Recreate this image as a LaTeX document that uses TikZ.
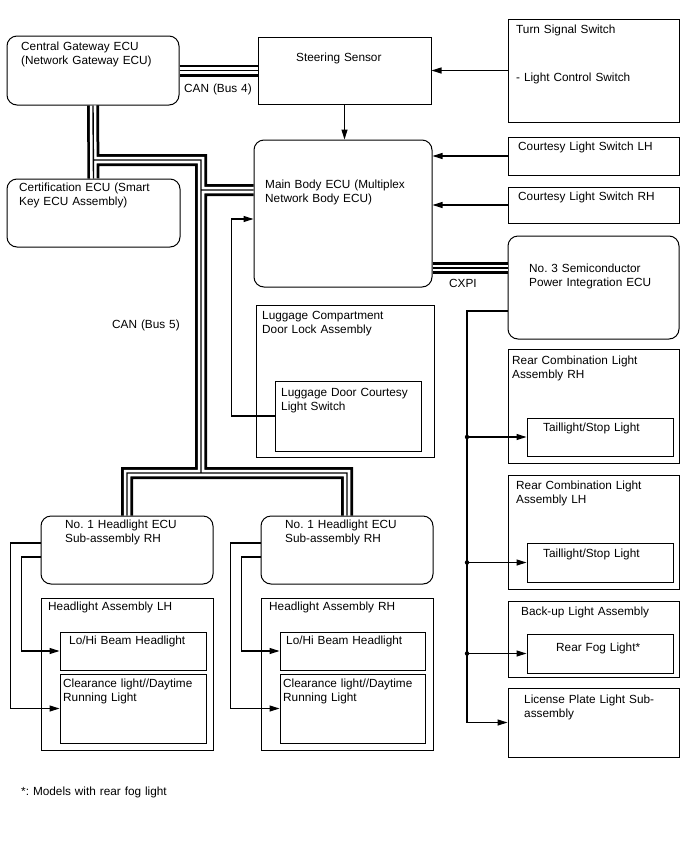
\documentclass[tikz,border=0pt]{standalone}
\usepackage{fontspec}
\setmainfont{Liberation Sans}
\frenchspacing
\usetikzlibrary{arrows.meta,fit}

\tikzset{
  box/.style={draw, line width=1pt, inner sep=0pt},
  rbox/.style={box, rounded corners=10pt},
  txt/.style={anchor=north west, inner sep=0pt, align=left, text width=200pt,
    text height=9pt, font=\fontsize{11.8}{14}\selectfont},
  arr/.style={line width=1.1pt, -{Triangle[length=10pt,width=6pt]}},
  bus/.style={line width=12pt, postaction={draw=white, line width=6.5pt},
    postaction={draw=black, line width=1.4pt}},
}

\begin{document}
\begin{tikzpicture}[x=1pt, y=-1pt]
  \useasboundingbox (0,0) rectangle (688,852);

  % ECUs and switches
  \node[rbox, fit={(7,36)(179,105)}] (gw) {};
  \node[box, fit={(258,37)(431,104)}] (steer) {};
  \node[box, fit={(508,19)(679,122)}] (tss) {};
  \node[rbox, fit={(254,140)(432,287)}] (main) {};
  \node[box, fit={(508,137)(679,175)}] (clh) {};
  \node[box, fit={(508,187)(679,223)}] (crh) {};
  \node[rbox, fit={(7,179)(180,247)}] (cert) {};
  \node[rbox, fit={(508,236)(679,339)}] (no3) {};
  \node[box, fit={(256,305)(434,457)}] (lug) {};
  \node[box, fit={(275,381)(421,451)}] (lsw) {};

  % rear lights
  \node[box, fit={(508,349)(679,463)}] (rcr) {};
  \node[box, fit={(527,418)(673,456)}] (tsr) {};
  \node[box, fit={(508,475)(679,589)}] (rcl) {};
  \node[box, fit={(527,543)(673,582)}] (tsl) {};
  \node[box, fit={(508,601)(679,677)}] (bkp) {};
  \node[box, fit={(527,634)(673,673)}] (fog) {};
  \node[box, fit={(508,688)(679,757)}] (lic) {};

  % headlights
  \node[rbox, fit={(41,516)(213,584)}] (hecuL) {};
  \node[box, fit={(41,598)(213,750)}] (hasL) {};
  \node[box, fit={(60,632)(206,670)}] (lohiL) {};
  \node[box, fit={(60,674)(206,743)}] (clrL) {};
  \node[rbox, fit={(261,516)(433,584)}] (hecuR) {};
  \node[box, fit={(261,598)(433,750)}] (hasR) {};
  \node[box, fit={(280,632)(425,670)}] (lohiR) {};
  \node[box, fit={(280,674)(425,743)}] (clrR) {};

  % texts
  \node[txt] (gwT) at (21,41) {Central Gateway ECU\\(Network Gateway ECU)};
  \node[txt] (steerT) at (296,52) {Steering Sensor};
  \node[txt] (tssT) at (516,24) {Turn Signal Switch};
  \node[txt] (lcsT) at (516,72) {- Light Control Switch};
  \node[txt] (clhT) at (518,141) {Courtesy Light Switch LH};
  \node[txt] (crhT) at (518,191) {Courtesy Light Switch RH};
  \node[txt] (mainT) at (265,179) {Main Body ECU (Multiplex\\Network Body ECU)};
  \node[txt] (certT) at (19,182) {Certification ECU (Smart\\Key ECU Assembly)};
  \node[txt] (no3T) at (529,263) {No. 3 Semiconductor\\Power Integration ECU};
  \node[txt] (lugT) at (262,310) {Luggage Compartment\\Door Lock Assembly};
  \node[txt] (lswT) at (281,387) {Luggage Door Courtesy\\Light Switch};
  \node[txt] (rcrT) at (512,355) {Rear Combination Light\\Assembly RH};
  \node[txt] (tsrT) at (543,422) {Taillight/Stop Light};
  \node[txt] (rclT) at (516,480) {Rear Combination Light\\Assembly LH};
  \node[txt] (tslT) at (543,548) {Taillight/Stop Light};
  \node[txt] (bkpT) at (521,606) {Back-up Light Assembly};
  \node[txt] (fogT) at (556,642) {Rear Fog Light*};
  \node[txt] (licT) at (524,694) {License Plate Light Sub-\\assembly};
  \node[txt] (hecuLT) at (65,519) {No. 1 Headlight ECU\\Sub-assembly RH};
  \node[txt] (hasLT) at (48,601) {Headlight Assembly LH};
  \node[txt] (lohiLT) at (69,635) {Lo/Hi Beam Headlight};
  \node[txt] (clrLT) at (63,678) {Clearance light//Daytime\\Running Light};
  \node[txt] (hecuRT) at (285,519) {No. 1 Headlight ECU\\Sub-assembly RH};
  \node[txt] (hasRT) at (269,601) {Headlight Assembly RH};
  \node[txt] (lohiRT) at (286,635) {Lo/Hi Beam Headlight};
  \node[txt] (clrRT) at (283,678) {Clearance light//Daytime\\Running Light};
  \node[txt] (can4) at (184,83) {CAN (Bus 4)};
  \node[txt] (can5) at (112,319) {CAN (Bus 5)};
  \node[txt] (cxpi) at (449,278) {CXPI};
  \node[txt] (note) at (21,786) {*: Models with rear fog light};

  % buses
  \coordinate (j1) at (93,160);
  \coordinate (j2) at (201,190);
  \coordinate (j3) at (201,473);
  \draw[bus] (gw.east) -- (gw.east -| steer.west);
  \draw[bus] (main.east |- 0,268) -- (no3.west |- 0,268);
  \draw[bus] (gw.south) -- (cert.north)
    (j1) -| (j2) -- (j2 -| main.west)
    (j2) -- (j3)
    (hecuL.north) |- (j3) -| (hecuR.north);

  % signal lines
  \draw[arr] (tss.west) -- (tss.west -| steer.east);
  \draw[arr] (steer.south) -- (steer.south |- main.north);
  \draw[arr] (clh.west) -- (clh.west -| main.east);
  \draw[arr] (crh.west) -- (crh.west -| main.east);
  \draw[arr] (lsw.west) -- ++(-43,0) |- ([yshift=-5.5pt]main.west);

  \coordinate (rail) at (467,311);
  \draw[arr] (no3.west |- rail) -- (rail) |- (lic.west);
  \draw[arr] (rail |- tsr.west) -- (tsr.west);
  \draw[arr] (rail |- tsl.west) -- (tsl.west);
  \draw[arr] (rail |- fog.west) -- (fog.west);
  \fill (rail |- tsr.west) circle (2.2);
  \fill (rail |- tsl.west) circle (2.2);
  \fill (rail |- fog.west) circle (2.2);

  \draw[arr] ([yshift=7pt]hecuL.west) -- ++(-30,0) |- (clrL.west);
  \draw[arr] ([yshift=-7pt]hecuL.west) -- ++(-19,0) |- (lohiL.west);
  \draw[arr] ([yshift=7pt]hecuR.west) -- ++(-30,0) |- (clrR.west);
  \draw[arr] ([yshift=-7pt]hecuR.west) -- ++(-19,0) |- (lohiR.west);
\end{tikzpicture}
\end{document}
